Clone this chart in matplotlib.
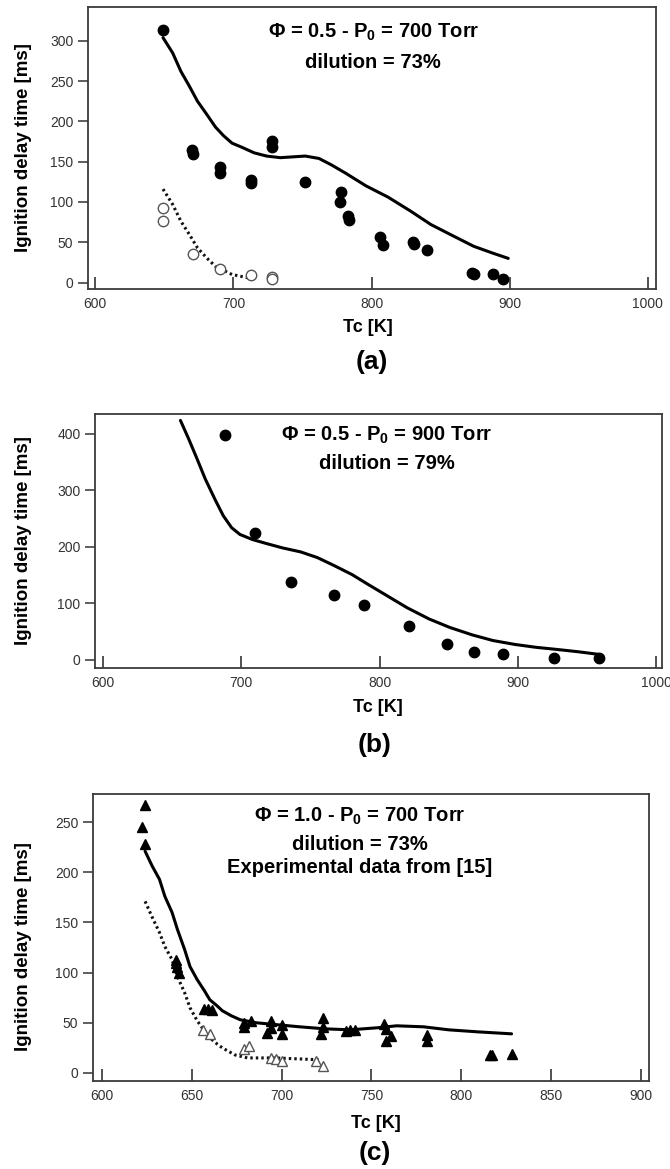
import matplotlib
matplotlib.use("Agg")
import matplotlib.pyplot as plt

plt.rcParams['font.family'] = ['Liberation Sans', 'DejaVu Sans']
plt.rcParams['mathtext.fontset'] = 'custom'
plt.rcParams['mathtext.default'] = 'regular'

# ---------------- data ----------------
# Panel (a): phi = 0.5, P0 = 700 Torr, dilution 73 %
a_exp_T = [649, 670, 671, 690, 690, 713, 713, 728, 728, 752, 778, 777, 783, 784,
           806, 808, 830, 831, 840, 873, 874, 888, 895]
a_exp_tau = [313, 165, 160, 143, 136, 127, 124, 176, 168, 125, 112, 100, 82, 78,
             57, 46, 50, 48, 40, 12, 11, 10, 5]
a_exp1_T = [649, 649, 671, 690, 713, 728, 728]
a_exp1_tau = [92, 77, 35, 17, 9, 7, 4]
a_sim_T = [649, 656, 662, 668, 674, 681, 687, 693, 699, 706, 715, 724, 734, 743,
           752, 762, 771, 781, 796, 812, 828, 843, 859, 874, 887, 899]
a_sim_tau = [304, 285, 262, 244, 225, 208, 193, 182, 173, 168, 161, 157, 155, 156,
             157, 154, 146, 136, 120, 106, 89, 72, 58, 45, 37, 30]
a_sim1_T = [649, 656, 662, 668, 674, 681, 687, 693, 699, 706, 713]
a_sim1_tau = [116, 97, 76, 60, 43, 30, 20, 15, 10, 7.5, 5]

# Panel (b): phi = 0.5, P0 = 900 Torr, dilution 79 %
b_exp_T = [688, 710, 736, 767, 789, 821, 849, 868, 889, 926, 959]
b_exp_tau = [398, 225, 138, 114, 97, 59, 27, 14, 10, 3, 3]
b_sim_T = [656, 662, 668, 674, 681, 687, 693, 699, 708, 718, 730, 743, 755, 767,
           780, 792, 805, 820, 836, 851, 867, 882, 898, 913, 929, 944, 960]
b_sim_tau = [424, 391, 356, 320, 284, 255, 234, 222, 213, 206, 198, 191, 181, 167,
             151, 133, 114, 92, 72, 57, 44, 34, 27, 22, 18, 14, 9]

# Panel (c): phi = 1.0, P0 = 700 Torr, dilution 73 %
c_exp_T = [624, 622, 624, 641, 641, 642, 643, 657, 659, 661, 679, 679, 683, 694,
           694, 692, 700, 700, 723, 723, 722, 736, 738, 741, 757, 758, 758, 761,
           781, 781, 816, 817, 828]
c_exp_tau = [267, 245, 228, 113, 110, 106, 100, 64, 64, 63, 50, 46, 52, 52,
             45, 40, 48, 39, 55, 46, 39, 42, 43, 43, 49, 44, 32, 37,
             38, 32, 18, 18, 19]
c_exp1_T = [656, 660, 679, 682, 694, 697, 700, 719, 723]
c_exp1_tau = [43, 39, 24, 27, 15, 14, 12, 12, 7]
c_sim_T = [624, 628, 632, 635, 639, 642, 646, 649, 653, 657, 660, 664, 667, 672,
           677, 686, 698, 710, 724, 738, 753, 764, 779, 793, 809, 828]
c_sim_tau = [221, 206, 193, 176, 160, 143, 123, 106, 93, 82, 73, 67, 62, 57,
             53, 50, 48, 46, 44, 43, 45, 47, 46, 43, 41, 39]
c_sim1_T = [624, 628, 632, 635, 639, 642, 646, 649, 653, 657, 660, 664, 667, 674,
            681, 696, 710, 722]
c_sim1_tau = [171, 155, 140, 126, 113, 96, 80, 65, 52, 42, 35, 29, 25, 18,
              15, 15, 14, 13]

x_ticks_ab = [600, 700, 800, 900, 1000]
x_ticks_c = [600, 650, 700, 750, 800, 850, 900]
y_ticks_a = [0, 50, 100, 150, 200, 250, 300]
y_ticks_b = [0, 100, 200, 300, 400]
y_ticks_c = [0, 50, 100, 150, 200, 250]

# ---------------- figure ----------------
W, H = 670, 1169
fig = plt.figure(figsize=(W / 100, H / 100), dpi=100)


def box(l, t, r, b):
    return [l / W, 1 - b / H, (r - l) / W, (b - t) / H]


def ftext(x, y, s, **kw):
    fig.text(x / W, 1 - y / H, s, **kw)


FRAME = '#3a3a3a'


def style(ax, xlim, ylim, xt, yt):
    ax.set_xlim(*xlim)
    ax.set_ylim(*ylim)
    ax.set_xticks(xt)
    ax.set_yticks(yt)
    for sp in ax.spines.values():
        sp.set_color(FRAME)
        sp.set_linewidth(1.3)
    ax.tick_params(axis='x', direction='in', length=8.5, width=1.1, color='#222',
                   labelsize=10, labelcolor='#333', pad=6)
    ax.tick_params(axis='y', direction='out', length=7, width=1.1, color='#333',
                   labelsize=10, labelcolor='#333', pad=3.5)


LW = 2.2
MS = 7.5
SOLID = dict(color='black', lw=LW, solid_capstyle='round', solid_joinstyle='round')
DOT = dict(color='#111', lw=LW, linestyle=(0, (0.8, 1.0)))

axA = fig.add_axes(box(88, 7, 656, 289))
axA.plot(a_sim_T, a_sim_tau, **SOLID)
axA.plot(a_sim1_T, a_sim1_tau, **DOT)
axA.plot(a_exp_T, a_exp_tau, 'o', color='black', ms=MS, ls='none')
axA.plot(a_exp1_T, a_exp1_tau, 'o', mfc='white', mec='#555', mew=1.0, ms=MS, ls='none')
style(axA, (594.7, 1006), (-8, 342), x_ticks_ab, y_ticks_a)

axB = fig.add_axes(box(95, 414, 662, 668))
axB.plot(b_sim_T, b_sim_tau, **SOLID)
axB.plot(b_exp_T, b_exp_tau, 'o', color='black', ms=MS, ls='none')
style(axB, (594.2, 1004.3), (-14.7, 435.4), x_ticks_ab, y_ticks_b)

axC = fig.add_axes(box(93, 794, 649, 1081))
axC.plot(c_sim_T, c_sim_tau, **SOLID)
axC.plot(c_sim1_T, c_sim1_tau, **DOT)
axC.plot(c_exp_T, c_exp_tau, '^', color='black', ms=7, ls='none')
axC.plot(c_exp1_T, c_exp1_tau, '^', mfc='white', mec='#555', mew=1.0, ms=7.5, ls='none')
style(axC, (595, 904.5), (-8, 278), x_ticks_c, y_ticks_c)

TB = dict(ha='center', va='baseline', fontsize=14.5, fontweight='bold')
ftext(374, 38, 'Φ = 0.5 - P$_0$ = 700 Torr', **TB)
ftext(373, 68, 'dilution = 73%', **TB)
ftext(387, 441, 'Φ = 0.5 - P$_0$ = 900 Torr', **TB)
ftext(387, 469, 'dilution = 79%', **TB)
ftext(360, 822, 'Φ = 1.0 - P$_0$ = 700 Torr', **TB)
ftext(360, 850, 'dilution = 73%', **TB)
ftext(360, 873, 'Experimental data from [15]', **TB)

YL = dict(ha='center', va='center', rotation=90, fontsize=13.5, fontweight='bold')
ftext(24, 148, 'Ignition delay time [ms]', **YL)
ftext(24, 541, 'Ignition delay time [ms]', **YL)
ftext(24, 947, 'Ignition delay time [ms]', **YL)

XL = dict(ha='center', va='center', fontsize=13, fontweight='bold')
ftext(368, 328, 'Tc [K]', **XL)
ftext(378, 708, 'Tc [K]', **XL)
ftext(376, 1123, 'Tc [K]', **XL)

PL = dict(ha='center', va='center', fontsize=19, fontweight='bold')
ftext(372, 362, '(a)', **PL)
ftext(375, 745, '(b)', **PL)
ftext(375, 1153, '(c)', **PL)

fig.savefig('out.png', dpi=100)
